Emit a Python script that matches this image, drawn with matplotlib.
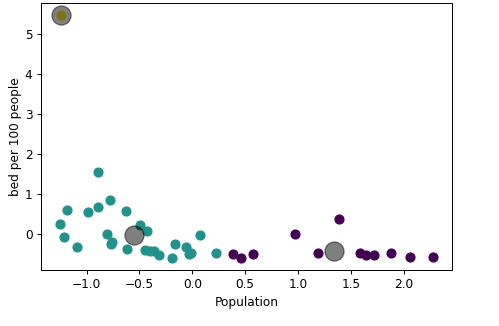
import matplotlib
matplotlib.use("Agg")
import matplotlib.pyplot as plt
import numpy as np

# cluster 0 (purple)
c0_x = [0.385, 0.457, 0.577, 0.972, 1.19, 1.385, 1.587, 1.638, 1.72, 1.878, 2.061, 2.279]
c0_y = [-0.50, -0.59, -0.50, 0.00, -0.46, 0.37, -0.46, -0.53, -0.53, -0.475, -0.56, -0.575]
# cluster 1 (teal)
c1_x = [-0.887, -0.774, -0.887, -1.187, -0.985, -0.629, -1.254, -0.499, -1.212, -0.802,
        -0.426, -1.086, -0.771, -0.760, -0.622, -0.449, -0.404, -0.366, -0.319, -0.165,
        -0.057, -0.196, -0.032, -0.016, 0.072, 0.221]
c1_y = [1.54, 0.86, 0.68, 0.60, 0.56, 0.575, 0.25, 0.23, -0.07, 0.0,
        0.08, -0.32, -0.25, -0.20, -0.36, -0.39, -0.42, -0.425, -0.51, -0.25,
        -0.32, -0.59, -0.50, -0.48, -0.02, -0.47]
# cluster 2 (yellow)
c2_x = [-1.238]
c2_y = [5.46]
# centroids
cent_x = [1.341, -0.549, -1.238]
cent_y = [-0.41, -0.03, 5.46]

DPI = 87
fig = plt.figure(figsize=(500 / DPI, 326 / DPI), dpi=DPI)
ax = fig.add_axes([0.082, 0.172, 0.822, 0.819])

cmap = plt.get_cmap("viridis")
ax.scatter(c0_x, c0_y, color=cmap(0.0), s=55)
ax.scatter(c1_x, c1_y, color=cmap(0.5), s=55)
ax.scatter(c2_x, c2_y, color=cmap(1.0), s=55)
ax.scatter(cent_x, cent_y, c="black", s=250, alpha=0.5)

ax.set_xlabel("Population")
ax.set_ylabel("bed per 100 people", labelpad=2.5)

fig.savefig("out.png", dpi=DPI)
